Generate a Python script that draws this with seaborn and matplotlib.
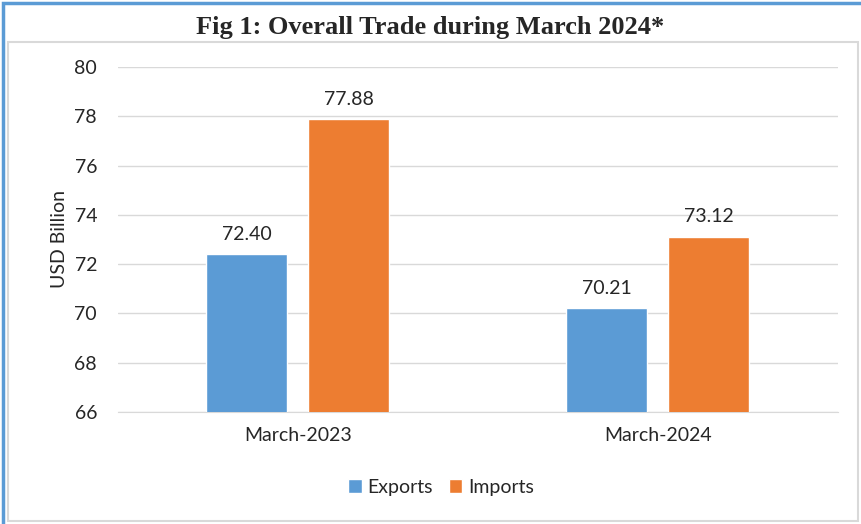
import pandas as pd
import matplotlib.pyplot as plt
import seaborn as sns
from matplotlib.patches import Rectangle

periods = ['March-2023', 'March-2024']
exports = [72.40, 70.21]
imports = [77.88, 73.12]
yticks = [66, 68, 70, 72, 74, 76, 78, 80]

df = pd.DataFrame({
    'Period': periods * 2,
    'Type': ['Exports'] * 2 + ['Imports'] * 2,
    'Value': exports + imports,
})

sns.set_style('white')
plt.rcParams['font.family'] = ['Lato', 'DejaVu Sans']

fig = plt.figure(figsize=(8.61, 5.24), dpi=100)
ax = fig.add_axes([0.137, 0.214, 0.836, 0.658])

# frames round the chart
fig.patches.append(Rectangle((0.004, -0.01), 1.1, 1.004, transform=fig.transFigure,
                             fill=False, edgecolor='#5B9BD5', linewidth=2.5))
fig.patches.append(Rectangle((0.009, 0.006), 0.988, 0.913, transform=fig.transFigure,
                             fill=False, edgecolor='#D9D9D9', linewidth=1.5))

sns.barplot(data=df, x='Period', y='Value', hue='Type', ax=ax,
            palette=['#5B9BD5', '#ED7D31'], width=0.567, gap=0.205,
            saturation=1, zorder=3)

for cont in ax.containers:
    ax.bar_label(cont, fmt='%.2f', padding=8, fontsize=14, color='#262626')

ax.set_ylim(66, 80)
ax.set_yticks(yticks)
ax.set_xlim(-0.5, 1.5)
ax.yaxis.grid(True, color='#D9D9D9', linewidth=1, zorder=0)
ax.set_axisbelow(True)
for s in ['top', 'right', 'left']:
    ax.spines[s].set_visible(False)
ax.spines['bottom'].set_color('#D9D9D9')
ax.tick_params(axis='both', length=0, labelsize=14, labelcolor='#262626')
ax.tick_params(axis='y', pad=15)
ax.tick_params(axis='x', pad=11)
ax.set_xlabel('')
ax.set_ylabel('USD Billion', fontsize=14, color='#262626')
ax.yaxis.set_label_coords(-0.07, 0.5)

ax.legend(loc='center', bbox_to_anchor=(0.449, -0.218), ncol=2, frameon=False,
          fontsize=14, handlelength=0.7, handleheight=0.7, handletextpad=0.3,
          columnspacing=0.8)

fig.text(0.5, 0.948, 'Fig 1: Overall Trade during March 2024*', ha='center', va='center',
         fontsize=19, fontweight='bold', family=['Liberation Serif', 'DejaVu Serif'])

fig.savefig('out.png', dpi=100)
